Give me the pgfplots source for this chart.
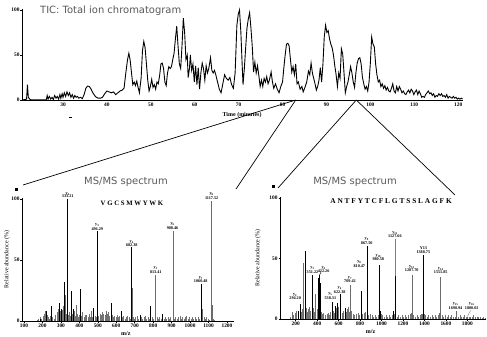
\documentclass[border=0pt]{standalone}
\usepackage{pgfplots}
\pgfplotsset{compat=1.18}
\usepackage{fontspec}
\setmainfont{Liberation Serif}
\newfontfamily\dejavu{DejaVu Sans}
\definecolor{titlegray}{gray}{0.35}
\definecolor{pkgray}{gray}{0.42}
\definecolor{grass}{gray}{0.45}
\newcommand{\pk}[2]{y\textsubscript{#1}\\#2}
\pgfplotsset{
  myax/.style={scale only axis, anchor=south west,
    axis x line*=bottom, axis y line*=left,
    tick align=outside, major tick length=1.5bp, clip=false,
    axis line style={line width=0.7pt}, tick style={line width=0.5pt, black},
    /pgf/number format/assume math mode=true,
    /pgf/number format/1000 sep={},
    ticklabel style={font=\fontsize{5.4}{5.4}\selectfont\bfseries, inner sep=0.8pt},
    ymin=0, ymax=101, ytick={0,50,100},
  },
}
\tikzset{
  lbl/.style={anchor=south, align=center, inner sep=0.3pt,
    font=\fontsize{4.2}{3.8}\selectfont\bfseries},
}
\begin{document}
\begin{tikzpicture}
\path[use as bounding box] (0,0) rectangle (487bp,337bp);
% ---------- TIC ----------
\begin{axis}[myax, at={(22bp,237bp)}, width=441bp, height=90.9bp,
  xmin=20.66, xmax=121.1, xtick={30,40,...,120},
  xlabel={Time (minutes)},
  every axis x label/.style={at={([yshift=-15bp]rel axis cs:0.499,0)}, anchor=center,
    font=\fontsize{6}{6}\selectfont\bfseries}]
\addplot[black, line width=0.9pt] coordinates {
(20.7,0)(21.3,0.5)(21.7,1)(21.9,17)(22.1,3)(22.4,1)(22.7,0.3)(23,0.2)(24,0.2)(25,0.3)(26,0.2)
(26.2,0.5)(26.4,5)(26.6,1)(26.9,4)(27.2,1)(27.5,3)(27.8,0.5)(28.1,5)(28.4,2)(28.7,4)(29,1)
(29.3,6)(29.5,2)(29.8,7)(30,3)(30.3,8)(30.6,4)(30.9,9)(31.2,5)(31.5,8)(31.8,3)(32.1,6)(32.4,2)
(32.7,5)(33,3)(33.3,4)(33.6,2)(34,3)(34.4,1.5)(34.8,6)(35.2,13)(35.6,15.5)(36,15)(36.4,12)
(36.8,8)(37.2,5)(37.6,3)(38,2)(38.5,2)(39,3)(39.5,7)(40,10)(40.5,9)(41,8)(41.5,9)(42,6)
(42.5,8)(43,10)(43.5,11)(43.9,13)(44.3,30)(44.7,45)(45,52)(45.3,44)(45.6,30)(45.9,17)
(46.2,20)(46.5,16)(46.8,21)(47.1,14)(47.4,8)(47.8,25)(48.1,55)(48.4,65)(48.7,58)(49,40)
(49.3,22)(49.6,10)(49.9,15)(50.2,23)(50.5,14)(50.8,17)(51.1,12)(51.4,20)(51.7,18)(52,27)
(52.3,40)(52.6,41)(52.9,35)(53.2,20)(53.5,16)(53.8,30)(54.1,37)(54.4,35)(54.7,37)(55,45)
(55.3,52)(55.6,68)(55.9,82)(56.2,60)(56.5,40)(56.8,35)(57.1,60)(57.4,91)(57.7,75)(58,45)
(58.3,50)(58.5,25)(58.8,35)(59,50)(59.3,33)(59.6,40)(59.9,20)(60.2,38)(60.5,17)(60.8,36)
(61.1,12)(61.4,30)(61.7,41)(62,35)(62.3,22)(62.6,38)(62.9,30)(63.2,35)(63.6,47)(63.9,33)
(64.2,30)(64.5,33)(64.8,28)(65.2,20)(65.6,12)(66,8)(66.4,18)(66.8,28)(67.2,24)(67.6,22)
(68,25)(68.4,17)(68.8,13)(69.2,30)(69.6,83)(69.9,95)(70.2,100)(70.5,76)(70.8,40)(71,17)
(71.3,35)(71.6,58)(71.9,80)(72.2,90)(72.5,97)(72.8,80)(73.1,60)(73.4,31)(73.7,42)(74,30)
(74.3,38)(74.6,27)(74.9,15)(75.2,22)(75.5,15)(75.8,24)(76.1,20)(76.4,26)(76.7,18)(77,22)
(77.4,31)(77.7,20)(78,13)(78.4,18)(78.8,12)(79.2,8)(79.6,15)(80,20)(80.3,36)(80.6,50)
(80.9,62)(81.2,63)(81.5,60)(81.8,45)(82.1,31)(82.4,37)(82.7,28)(83,40)(83.3,18)(83.6,20)
(84,12)(84.4,15)(84.7,9)(85.1,14)(85.5,20)(85.9,32)(86.2,28)(86.5,41)(86.8,30)(87.1,24)
(87.4,18)(87.7,11)(88,15)(88.3,22)(88.6,36)(88.9,20)(89.2,40)(89.5,70)(89.8,83)(90.1,75)
(90.4,77)(90.7,68)(91,62)(91.3,58)(91.6,50)(91.9,38)(92.2,28)(92.5,15)(92.8,30)(93.1,24)
(93.4,57)(93.7,51)(94,30)(94.3,8)(94.6,15)(94.9,20)(95.2,28)(95.5,37)(95.8,30)(96.1,20)
(96.4,14)(96.7,30)(97,41)(97.3,46)(97.6,47)(97.9,40)(98.2,25)(98.5,18)(98.8,12)(99.1,15)
(99.4,10)(99.7,20)(100,41)(100.3,70)(100.6,62)(100.9,59)(101.2,40)(101.5,28)(101.8,20)
(102.1,22)(102.4,15)(102.7,18)(103,13)(103.3,16)(103.6,11)(103.9,14)(104.2,10)(104.5,9)
(104.8,13)(105.1,18)(105.4,10)(105.7,8)(106,15)(106.3,10)(106.6,15)(106.9,12)(107.2,8)
(107.5,10)(107.8,7)(108.1,6)(108.4,9)(108.7,11)(109,8)(109.3,12)(109.6,10)(109.9,6)
(110.2,9)(110.5,11)(110.8,6)(111.1,10)(111.4,7)(111.7,3)(112,4)(112.3,3)(112.6,6)(112.9,8)
(113.2,10)(113.5,7)(113.8,8)(114.1,5)(114.4,7)(114.7,3)(115,5)(115.3,4)(115.6,7)(115.9,5)
(116.2,7)(116.5,4)(116.8,5)(117.1,3)(117.4,6)(117.7,2)(118,4)(118.3,3)(118.6,2)(118.9,4)
(119.2,2)(119.5,3)(119.8,1)(120.1,2)(120.4,1)(120.7,2)(121,1)
};
\coordinate (P1) at (axis cs:83,0);
\coordinate (P2) at (axis cs:96.8,0);
\end{axis}
\node[font=\dejavu\fontsize{10}{12}\selectfont, text=titlegray, anchor=west, inner sep=0pt]
  at (40bp,326bp) {TIC: Total ion chromatogram};
\fill (69bp,219.6bp) rectangle (71.5bp,220.4bp);
% ---------- connecting lines ----------
\draw[line width=0.7pt] (P1) -- (23bp,152bp);
\draw[line width=0.7pt] (P1) -- (236bp,148bp);
\draw[line width=0.7pt] (P2) -- (278bp,149bp);
\draw[line width=0.7pt] (P2) -- (455bp,142bp);
\fill (15bp,146bp) rectangle (17.5bp,148.5bp);
\fill (272bp,149bp) rectangle (274.5bp,151.5bp);
\node[font=\dejavu\fontsize{10}{12}\selectfont, text=titlegray, inner sep=0pt]
  at (126bp,155bp) {MS/MS spectrum};
\node[font=\dejavu\fontsize{10}{12}\selectfont, text=titlegray, inner sep=0pt]
  at (355bp,155bp) {MS/MS spectrum};
% ---------- left spectrum ----------
\begin{axis}[myax, at={(22bp,16bp)}, width=212bp, height=123.2bp,
  xmin=89.2, xmax=1238, xtick={100,200,...,1200},
  xlabel={m/z}, ylabel={Relative abundance (\%)},
  every axis x label/.style={at={([yshift=-12.5bp]rel axis cs:0.49,0)}, anchor=center,
    font=\fontsize{6}{6}\selectfont\bfseries},
  every axis y label/.style={at={([xshift=-15bp]rel axis cs:0,0.5)}, rotate=90, anchor=center,
    font=\fontsize{6}{6}\selectfont}]
\addplot[ycomb, grass, line width=0.6pt] coordinates {
(170,1)(180,2)(188,3)(195,1.5)(205,4)(212,6)(218,8)(224,5)(230,3)(238,2)(245,4)(256,3)(262,2)
(270,5)(278,7)(284,10)(290,9)(298,8)(305,9)(310,7)(315,12)(322,8)(328,6)(340,5)(346,7)(352,4)
(360,6)(366,5)(372,8)(378,4)(390,6)(396,3)(402,5)(412,4)(418,7)(425,3)(432,5)(438,4)(446,3)
(452,6)(458,3)(465,5)(472,3)(486,4)(492,3)(505,4)(512,6)(520,5)(526,7)(532,6)(538,5)(544,4)
(550,6)(556,7)(562,4)(578,5)(585,3)(592,4)(598,3)(605,5)(612,3)(618,4)(632,3)(640,4)(648,2)
(655,3)(662,4)(668,3)(675,2)(690,3)(698,2)(705,3)(712,4)(720,2)(735,3)(742,2)(750,3)(758,4)
(765,2)(772,3)(780,2)(795,3)(802,2)(820,3)(828,2)(835,3)(842,2)(858,2)(865,3)(872,2)(880,3)
(888,2)(895,3)(915,2)(922,3)(930,2)(938,3)(945,4)(952,2)(960,3)(968,2)(975,3)(982,4)(990,2)
(998,3)(1005,2)(1012,3)(1020,2)(1028,3)(1035,2)(1042,3)(1050,2)(1068,2)(1075,3)(1082,2)
(1090,3)(1098,2)(1105,1)(1125,2)(1132,1)
};
\addplot[ycomb, pkgray, line width=1pt] coordinates {
(325,21)(385,13)(440,5)(467,8)(545,8)(688,27)(1065,10)(1122,13)(813,38)(908,74)(1117,98)
};
\addplot[ycomb, black, line width=1pt] coordinates {
(190,2)(223,8)(250,12.5)(294,15)(303,10)(318,32)(337,100)(355,25)(367,10)(407,26)(479,11)
(497,74)(572,15)(626,8)(682,61)(729,5)(787,12)(850,6)(1060,30)
};
\node[lbl] at (axis cs:337,100.5) {\pk{2}{333.21}};
\node[lbl] at (axis cs:497,74) {\pk{3}{496.29}};
\node[lbl] at (axis cs:684,61) {\pk{4}{682.38}};
\node[lbl] at (axis cs:814,38.5) {\pk{5}{813.41}};
\node[lbl] at (axis cs:905,74.5) {\pk{6}{908.46}};
\node[lbl] at (axis cs:1058,31) {\pk{7}{1060.48}};
\node[lbl] at (axis cs:1117,99) {\pk{8}{1117.52}};
\node[font=\fontsize{6.8}{7}\selectfont\bfseries] at (axis cs:685,96.7) {V G C S M W Y W K};
\end{axis}
% ---------- right spectrum ----------
\begin{axis}[myax, at={(280bp,18bp)}, width=206bp, height=122.2bp,
  xmin=53.6, xmax=1974, xtick={200,400,...,1800},
  xlabel={m/z}, ylabel={Relative abundance (\%)},
  every axis x label/.style={at={([yshift=-13bp]rel axis cs:0.44,0)}, anchor=center,
    font=\fontsize{6}{6}\selectfont\bfseries},
  every axis y label/.style={at={([xshift=-22bp]rel axis cs:0,0.5)}, rotate=90, anchor=center,
    font=\fontsize{6}{6}\selectfont}]
\addplot[ycomb, grass, line width=0.6pt] coordinates {
(150,2)(180,3)(195,5)(210,7)(250,6)(260,8)(300,9)(310,6)(320,8)(330,10)(340,7)(365,9)(375,6)
(400,8)(440,6)(450,4)(460,5)(475,3)(490,4)(505,5)(515,3)(525,6)(550,7)(560,5)(575,9)(590,6)
(600,10)(630,5)(645,7)(660,9)(670,6)(680,8)(690,10)(700,6)(720,7)(735,4)(750,3)(765,4)(780,5)
(795,3)(820,4)(835,5)(850,6)(880,3)(895,4)(910,3)(925,2)(940,3)(955,2)(970,3)(995,4)(1010,3)
(1025,2)(1040,3)(1055,2)(1070,3)(1085,2)(1100,3)(1115,4)(1145,2)(1160,3)(1175,2)(1190,3)
(1205,2)(1220,3)(1235,2)(1250,3)(1265,4)(1275,5)(1300,3)(1315,2)(1330,3)(1345,2)(1360,3)
(1375,4)(1400,4)(1410,3)(1425,2)(1440,3)(1455,2)(1470,3)(1485,2)(1500,3)(1515,2)(1530,3)
(1540,5)(1565,3)(1580,2)(1595,3)(1610,2)(1625,3)(1640,2)(1655,3)(1670,2)(1685,2)(1715,2)
(1730,3)(1745,2)(1760,2)(1775,3)(1790,2)(1815,2)(1830,2)(1845,2)(1860,3)(1875,2)(1890,2)
(1905,2)(1920,2)(1935,1)(1950,2)(1965,1)
};
\addplot[ycomb, pkgray, line width=1pt] coordinates {
(170,6)(272,46.5)(386,21)(712,28)(1287,36)(1292,33)(1552,35)(1545,5)(1385,4)(1700,6.6)(1800,2)
};
\addplot[ycomb, black, line width=1pt] coordinates {
(225,7)(240,12)(293,56.5)(355,36)(411,34)(423,36)(430,30)(541,14)(567,11)(585,13)(619,21)
(660,9)(811,23)(866,60)(985,45)(990,7)(1115,7)(1130,35.5)(1394,53)
};
\draw[gray, line width=0.5pt] (axis cs:1130,35.5) -- (axis cs:1130,66.5);
\draw[black, line width=0.4pt] (axis cs:437,39) -- (axis cs:418,35.5);
\draw[gray, line width=0.4pt] (axis cs:1800,2) -- (axis cs:1830,7);
\node[lbl] at (axis cs:195,16) {\pk{2}{294.20}};
\node[lbl] at (axis cs:356,37.5) {\pk{3}{351.22}};
\node[lbl] at (axis cs:460,38) {\pk{4}{422.26}};
\node[lbl] at (axis cs:523,16) {\pk{5}{538.31}};
\node[lbl] at (axis cs:610,20.5) {\pk{6}{622.38}};
\node[lbl] at (axis cs:706,29.5) {\pk{7}{709.42}};
\node[lbl] at (axis cs:793,42.5) {\pk{8}{810.47}};
\node[lbl] at (axis cs:862,61.5) {\pk{9}{867.50}};
\node[lbl] at (axis cs:970,47.5) {\pk{10}{980.58}};
\node[lbl] at (axis cs:1125,67) {\pk{11}{1127.66}};
\node[lbl] at (axis cs:1282,39) {\pk{12}{1287.70}};
\node[lbl] at (axis cs:1390,54) {Y13\\1388.75};
\node[lbl] at (axis cs:1552,37) {\pk{14}{1551.85}};
\node[lbl] at (axis cs:1690,7.5) {\pk{15}{1698.94}};
\node[lbl] at (axis cs:1841,7.5) {\pk{16}{1800.02}};
\node[font=\fontsize{7.4}{7.5}\selectfont\bfseries] at (axis cs:1089,97.5) {A N T F Y T C F L G T S S L A G F K};
\end{axis}
\end{tikzpicture}
\end{document}
